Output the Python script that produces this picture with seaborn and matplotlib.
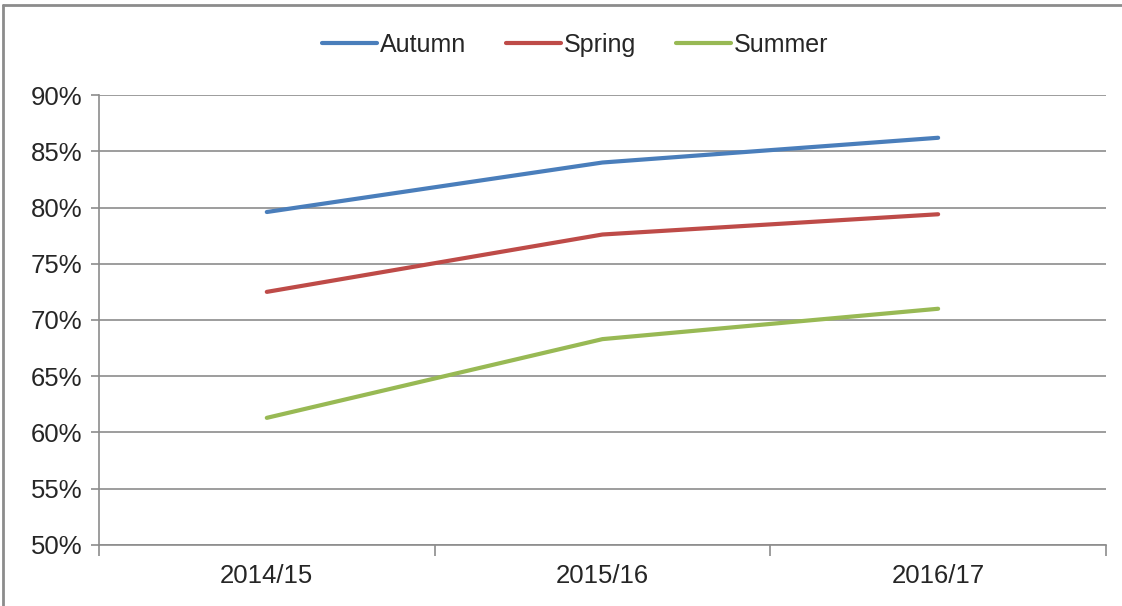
import pandas as pd
import matplotlib.pyplot as plt
import seaborn as sns
from matplotlib.lines import Line2D
from matplotlib.ticker import FixedLocator, PercentFormatter

# values (percent)
years = ['2014/15', '2015/16', '2016/17']
autumn = [79.6, 84.0, 86.2]
spring = [72.5, 77.6, 79.4]
summer = [61.3, 68.3, 71.0]
seasons = ['Autumn', 'Spring', 'Summer']
colours = ['#4A7EBB', '#BE4B48', '#98B954']

df = pd.DataFrame({
    'Year': years * 3,
    'Value': autumn + spring + summer,
    'Season': [s for s in seasons for _ in years],
})

sns.set_style('white')
plt.rcParams['font.family'] = ['Liberation Sans', 'DejaVu Sans']

fig = plt.figure(figsize=(11.22, 6.06), dpi=100)
ax = fig.add_axes([0.0882, 0.1007, 0.8975, 0.7425])

sns.lineplot(data=df, x='Year', y='Value', hue='Season', palette=colours,
             linewidth=3, ax=ax, sort=False, solid_capstyle='round')

grid = '#8C8C8C'
ax.set_ylim(50, 90)
ax.set_xlim(-0.5, 2.5)
ax.set_yticks(range(50, 91, 5))
ax.yaxis.set_major_formatter(PercentFormatter(decimals=0))
ax.grid(axis='y', color=grid, linewidth=1.2)
ax.set_axisbelow(True)
ax.set_xlabel('')
ax.set_ylabel('')

for side in ['top', 'right']:
    ax.spines[side].set_visible(False)
for side in ['left', 'bottom']:
    ax.spines[side].set_color(grid)
    ax.spines[side].set_linewidth(1.2)

ax.xaxis.set_minor_locator(FixedLocator([-0.5, 0.5, 1.5, 2.5]))
ax.tick_params(axis='x', which='major', length=0, labelsize=18.5, pad=14)
ax.tick_params(axis='x', which='minor', length=8, color=grid, width=1.2,
               direction='out', bottom=True)
ax.tick_params(axis='y', length=6, color=grid, width=1.2, left=True,
               labelsize=18.5, pad=6)

ax.legend(loc='lower center', bbox_to_anchor=(0.473, 1.035), ncol=3,
          frameon=False, fontsize=18, handlelength=2.2, handletextpad=0.12,
          columnspacing=1.6)

# outer frame of the original figure (left and top edges)
fig.add_artist(Line2D([3 / 1122, 3 / 1122], [0, 1 - 5 / 606],
                      color='#8C8C8C', linewidth=2, transform=fig.transFigure))
fig.add_artist(Line2D([3 / 1122, 1], [1 - 5 / 606, 1 - 5 / 606],
                      color='#8C8C8C', linewidth=2, transform=fig.transFigure))

fig.savefig('out.png', dpi=100, facecolor='white')
